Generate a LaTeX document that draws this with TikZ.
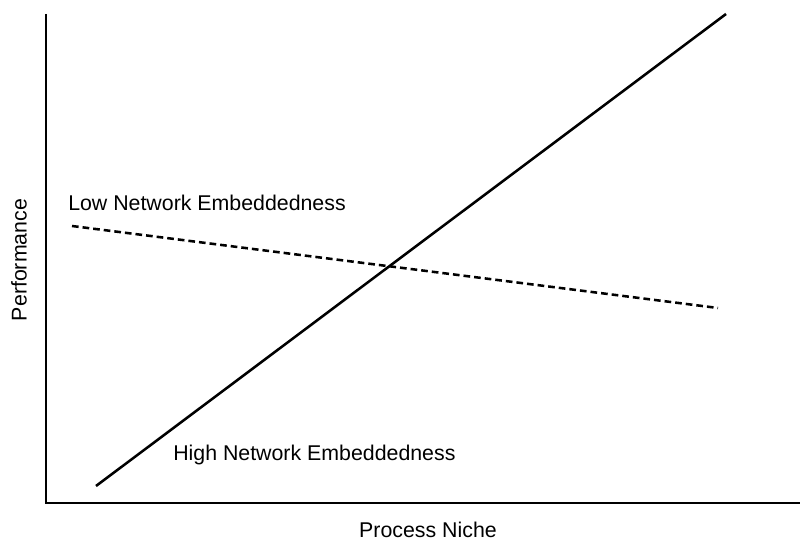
\documentclass[tikz,border=0pt]{standalone}
\usepackage{fontspec}
\setmainfont{Liberation Sans}
\begin{document}
\begin{tikzpicture}[x=0.75pt,y=-0.75pt,
  axis/.style={line width=1.8pt},
  curve/.style={line width=1.9pt},
  dashcurve/.style={line width=1.9pt,dash pattern=on 5pt off 3pt},
  lbl/.style={font=\fontsize{16}{19}\selectfont,inner sep=0pt}]
\useasboundingbox (0,0) rectangle (800,541);
\coordinate (o) at (46,503);
\coordinate (ytop) at (46,14);
\coordinate (xend) at (800,503);
\draw[axis] (ytop) -- (o) -- (xend);
\coordinate (s1) at (96,486);
\coordinate (s2) at (726,14);
\draw[curve] (s1) -- (s2);
\coordinate (d1) at (72,226);
\coordinate (d2) at (718,308);
\draw[dashcurve] (d1) -- (d2);
\node[lbl,anchor=west] (low) at (68,203) {Low Network Embeddedness};
\node[lbl,anchor=west] (high) at (173,455) {High Network Embeddedness};
\node[lbl] (xl) at (428,530) {Process Niche};
\node[lbl,rotate=90] (yl) at (19,260) {Performance};
\end{tikzpicture}
\end{document}
